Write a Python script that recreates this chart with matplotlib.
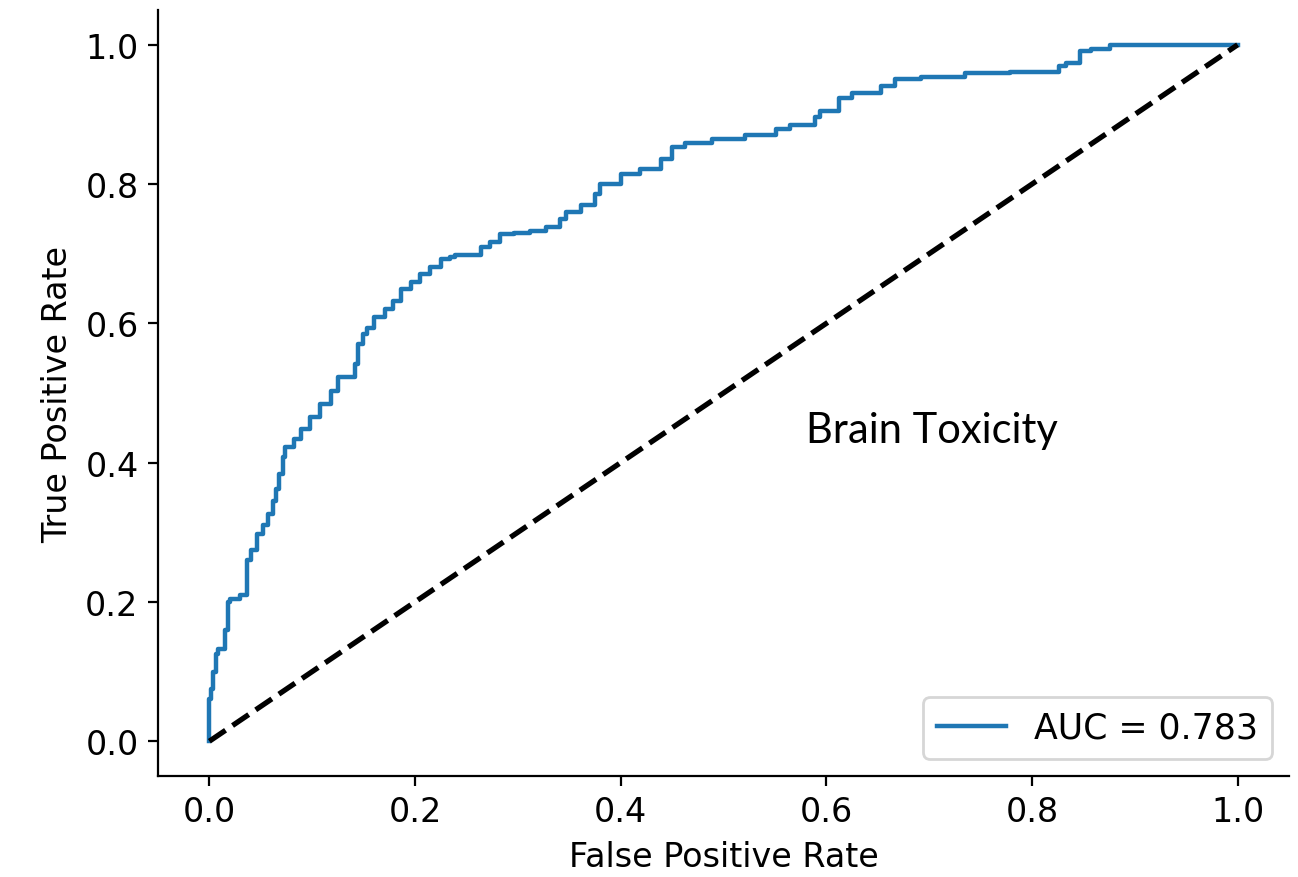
import matplotlib.pyplot as plt
import numpy as np

# ROC curve
fpr = [0.0, 0.0, 0.002, 0.004, 0.006, 0.008, 0.015, 0.018, 0.02, 0.03, 0.037,
       0.04, 0.046, 0.052, 0.057, 0.062, 0.065, 0.068, 0.072, 0.074, 0.082,
       0.089, 0.098, 0.108, 0.118, 0.125, 0.13, 0.142, 0.145, 0.149, 0.153,
       0.16, 0.171, 0.179, 0.186, 0.196, 0.205, 0.215, 0.225, 0.234, 0.239,
       0.264, 0.273, 0.283, 0.296, 0.312, 0.327, 0.341, 0.347, 0.361, 0.375,
       0.38, 0.4, 0.419, 0.439, 0.45, 0.463, 0.489, 0.521, 0.551, 0.565,
       0.589, 0.594, 0.612, 0.625, 0.653, 0.667, 0.692, 0.735, 0.779, 0.826,
       0.833, 0.847, 0.857, 0.876, 0.934, 0.939, 1.0]
tpr = [0.0, 0.043, 0.06, 0.075, 0.1, 0.125, 0.132, 0.16, 0.2, 0.204, 0.21,
       0.26, 0.275, 0.297, 0.31, 0.326, 0.345, 0.362, 0.384, 0.408, 0.422,
       0.434, 0.448, 0.466, 0.484, 0.503, 0.523, 0.523, 0.542, 0.57, 0.585,
       0.593, 0.609, 0.621, 0.632, 0.649, 0.659, 0.671, 0.681, 0.693, 0.695,
       0.698, 0.71, 0.717, 0.728, 0.73, 0.733, 0.739, 0.75, 0.76, 0.77,
       0.786, 0.8, 0.815, 0.822, 0.836, 0.853, 0.859, 0.865, 0.871, 0.879,
       0.885, 0.897, 0.905, 0.924, 0.931, 0.941, 0.951, 0.954, 0.96, 0.961,
       0.97, 0.974, 0.991, 0.994, 0.999, 1.0, 1.0]
auc_value = 0.783

plt.rcParams['font.size'] = 12

fig, ax = plt.subplots(figsize=(6.49, 4.39), dpi=200)
fig.subplots_adjust(left=0.1217, right=0.9931, top=0.9875, bottom=0.115)

ax.plot(fpr, tpr, drawstyle='steps-pre', lw=1.6, label='AUC = %.3f' % auc_value)
ax.plot([0, 1], [0, 1], 'k--', lw=1.9)

ax.text(0.58, 0.43, 'Brain Toxicity', fontsize=15, family=['Lato', 'DejaVu Sans'])

ax.set_xlabel('False Positive Rate')
ax.set_ylabel('True Positive Rate')
ax.legend(loc='lower right', fontsize=12.5)
ax.spines['top'].set_visible(False)
ax.spines['right'].set_visible(False)

fig.savefig('out.png', dpi=200)
